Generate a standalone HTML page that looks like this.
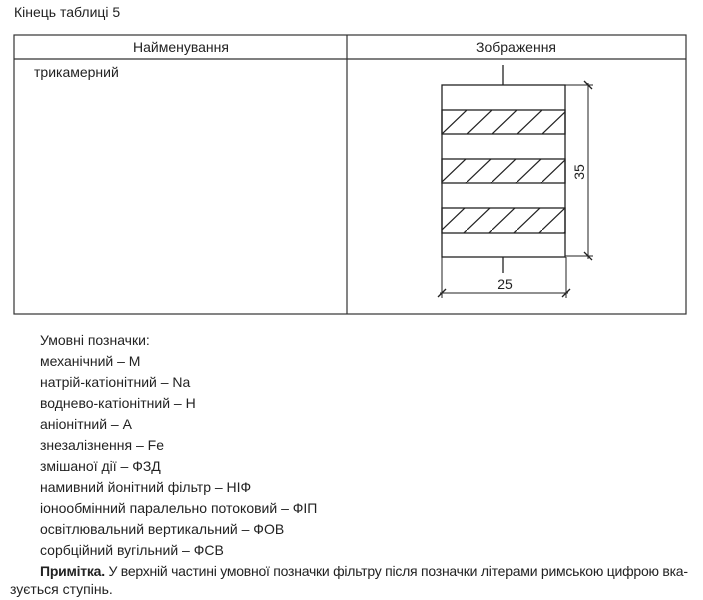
<!DOCTYPE html>
<html><head><meta charset="utf-8"><style>
html,body{margin:0;padding:0;background:#fff;}
svg{display:block}
text{font-family:"Liberation Sans",sans-serif;font-size:14px;fill:#222}
</style></head><body>
<svg width="703" height="600" viewBox="0 0 703 600" xmlns="http://www.w3.org/2000/svg">
<defs>
<pattern id="h" patternUnits="userSpaceOnUse" width="25" height="24" x="442" y="110">
<line x1="0" y1="24" x2="25" y2="0" stroke="#222" stroke-width="1.2"/>
</pattern>
</defs>
<text x="14" y="17">Кінець таблиці 5</text>
<g stroke="#333" stroke-width="1.2" fill="none">
<rect x="14" y="35" width="672" height="279"/>
<line x1="14" y1="59" x2="686" y2="59"/>
<line x1="347" y1="35" x2="347" y2="314"/>
</g>
<text x="181" y="52" text-anchor="middle">Найменування</text>
<text x="516" y="52" text-anchor="middle">Зображення</text>
<text x="34" y="77">трикамерний</text>
<g stroke="#222" stroke-width="1.3">
<rect x="442" y="110" width="123" height="24" fill="url(#h)"/>
<rect x="442" y="159" width="123" height="24" fill="url(#h)"/>
<rect x="442" y="208" width="123" height="25" fill="url(#h)"/>
<rect x="442" y="85" width="123" height="172" fill="none"/>
<line x1="503" y1="65" x2="503" y2="85"/>
<line x1="503" y1="257" x2="503" y2="273"/>
<line x1="565" y1="85" x2="593" y2="85" stroke-width="1"/>
<line x1="565" y1="256" x2="593" y2="256" stroke-width="1"/>
<line x1="588" y1="83" x2="588" y2="259" stroke-width="1"/>
<line x1="584" y1="81" x2="592" y2="89"/>
<line x1="584" y1="252" x2="592" y2="260"/>
<line x1="442" y1="257" x2="442" y2="298" stroke-width="1"/>
<line x1="566" y1="257" x2="566" y2="298" stroke-width="1"/>
<line x1="440" y1="293" x2="568" y2="293" stroke-width="1"/>
<line x1="438" y1="297" x2="446" y2="289"/>
<line x1="562" y1="297" x2="570" y2="289"/>
</g>
<text x="505" y="289" text-anchor="middle">25</text>
<text x="0" y="0" transform="translate(584,172) rotate(-90)" text-anchor="middle">35</text>
<text x="40" y="345">Умовні позначки:</text>
<text x="40" y="366">механічний – М</text>
<text x="40" y="387">натрій-катіонітний – Na</text>
<text x="40" y="408">воднево-катіонітний – Н</text>
<text x="40" y="429">аніонітний – А</text>
<text x="40" y="450">знезалізнення – Fe</text>
<text x="40" y="471">змішаної дії – ФЗД</text>
<text x="40" y="492">намивний йонітний фільтр – НІФ</text>
<text x="40" y="513">іонообмінний паралельно потоковий – ФІП</text>
<text x="40" y="534">освітлювальний вертикальний – ФОВ</text>
<text x="40" y="555">сорбційний вугільний – ФСВ</text>
<text x="40" y="576" textLength="648" lengthAdjust="spacing"><tspan font-weight="bold">Примітка.</tspan> У верхній частині умовної позначки фільтру після позначки літерами римською цифрою вка-</text>
<text x="10" y="594">зується ступінь.</text>
</svg>
</body></html>
